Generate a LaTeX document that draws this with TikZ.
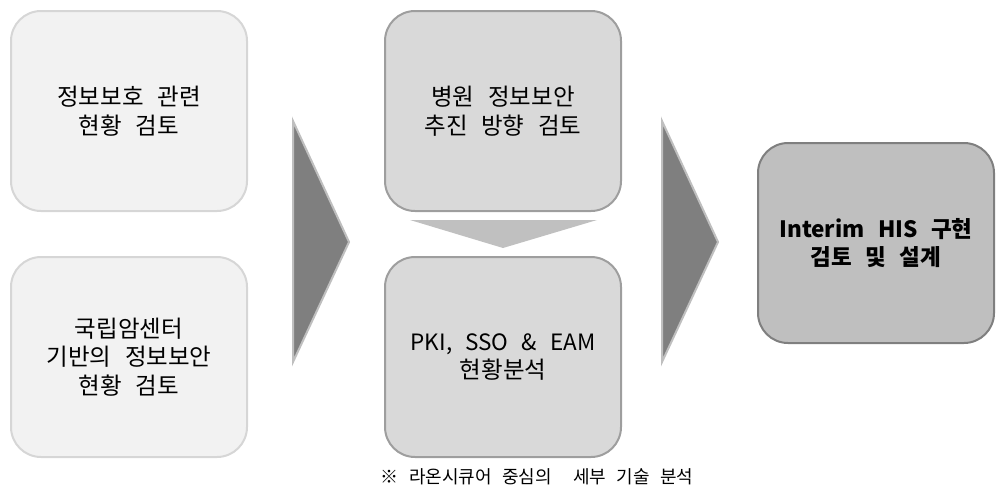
\documentclass[tikz,border=0pt]{standalone}
\usepackage{fontspec}
\newfontfamily\kr[WordSpace=2.0]{Noto Sans CJK KR}
\newfontfamily\krlatin[WordSpace=1.2]{Noto Sans CJK KR}
\newfontfamily\krnote[WordSpace=2.6]{Noto Sans CJK KR}
\begin{document}
\begin{tikzpicture}[x=1pt,y=-1pt,
  base/.style={rounded corners=30pt, line width=2pt, minimum width=236pt, minimum height=200pt, align=center, inner sep=0pt, font=\kr\fontsize{23.5}{28.5}\selectfont},
  lightbox/.style={base, fill=c1fill, draw=c1line},
  midbox/.style={base, fill=c2fill, draw=c2line},
  darkbox/.style={base, fill=c3fill, draw=c3line, font=\kr\bfseries\fontsize{22.5}{28.5}\selectfont},
  bigarrow/.style={fill=arrowfill, draw=arrowline, line width=2pt, line join=miter},
  downarrow/.style={fill=chevfill, draw=none},
  note/.style={font=\krnote\fontsize{18}{20}\selectfont, inner sep=0pt}
]
\definecolor{c1fill}{HTML}{F2F2F2}
\definecolor{c1line}{HTML}{D6D6D6}
\definecolor{c2fill}{HTML}{D9D9D9}
\definecolor{c2line}{HTML}{9E9E9E}
\definecolor{c3fill}{HTML}{BFBFBF}
\definecolor{c3line}{HTML}{7F7F7F}
\definecolor{arrowfill}{HTML}{7F7F7F}
\definecolor{arrowline}{HTML}{BFBFBF}
\definecolor{chevfill}{HTML}{C0C0C0}
\useasboundingbox (0,0) rectangle (1006,498);

\node[lightbox] (a) at (129,111) {정보보호 관련\\현황 검토};
\node[lightbox] (b) at (129,357) {국립암센터\\기반의 정보보안\\현황 검토};
\node[midbox] (c) at (503,111) {병원 정보보안\\추진 방향 검토};
\node[midbox] (d) at (503,357) {{\krlatin\fontsize{22.5}{28.5}\selectfont PKI, SSO \& EAM}\\현황분석};
\node[darkbox] (e) at (876,243) {Interim HIS 구현\\검토 및 설계};
\node[note] (n) at (537,477) {※ 라온시큐어 중심의 \ 세부 기술 분석};

\coordinate (t1a) at (293,121);
\coordinate (t1b) at (293,362);
\coordinate (t1c) at (349,242);
\draw[bigarrow] (t1a) -- (t1c) -- (t1b) -- cycle;
\coordinate (t2a) at (662,121);
\coordinate (t2b) at (662,362);
\coordinate (t2c) at (718,242);
\draw[bigarrow] (t2a) -- (t2c) -- (t2b) -- cycle;
\coordinate (v1) at (410,220);
\coordinate (v2) at (597,220);
\coordinate (v3) at (503,248);
\fill[downarrow] (v1) -- (v2) -- (v3) -- cycle;
\end{tikzpicture}
\end{document}
